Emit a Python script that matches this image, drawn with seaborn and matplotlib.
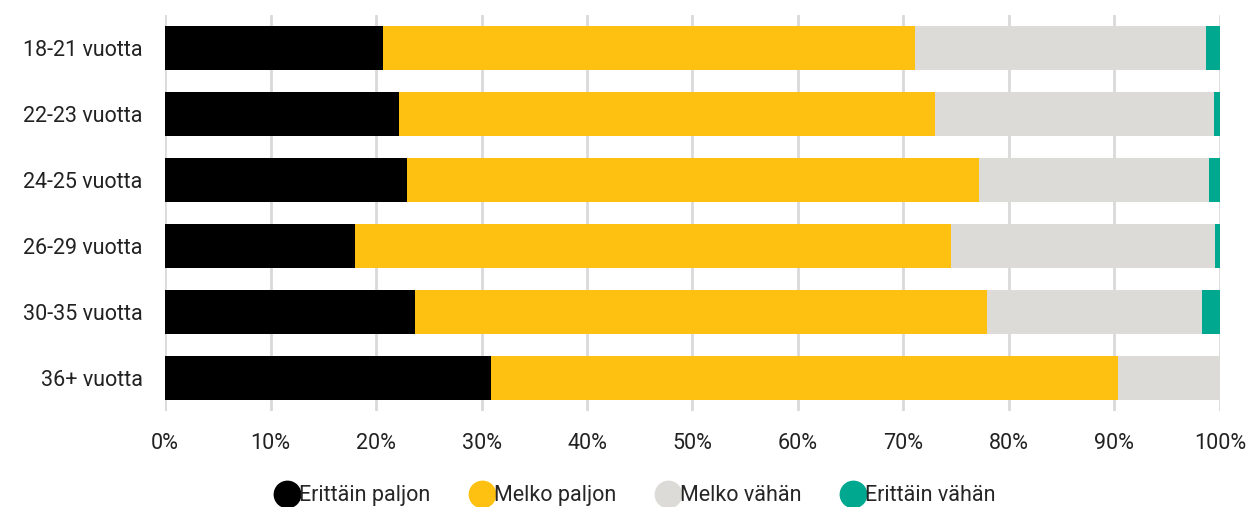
import numpy as np
import pandas as pd
import matplotlib
matplotlib.use("Agg")
import matplotlib.pyplot as plt
from matplotlib.lines import Line2D
import seaborn as sns

categories = ["18-21 vuotta", "22-23 vuotta", "24-25 vuotta", "26-29 vuotta", "30-35 vuotta", "36+ vuotta"]
series_names = ["Erittäin paljon", "Melko paljon", "Melko vähän", "Erittäin vähän"]
erittain_paljon = [20.7, 22.2, 22.9, 18.0, 23.7, 30.9]
melko_paljon = [50.4, 50.8, 54.3, 56.5, 54.2, 59.4]
melko_vahan = [27.6, 26.4, 21.8, 25.0, 20.4, 9.7]
erittain_vahan = [1.3, 0.6, 1.0, 0.5, 1.7, 0.0]
colors = ["#000000", "#FEC111", "#DCDBD7", "#00A88F"]

sns.set_style("white")
plt.rcParams['font.family'] = ['Roboto', 'DejaVu Sans']

df = pd.DataFrame({"cat": categories,
                   series_names[0]: erittain_paljon,
                   series_names[1]: melko_paljon,
                   series_names[2]: melko_vahan,
                   series_names[3]: erittain_vahan})
cum = df[series_names].cumsum(axis=1)

fig = plt.figure(figsize=(12.46, 5.07), dpi=100)
ax = fig.add_axes([0.1325, 0.19, 0.8465, 0.78])

# draw from the longest stack to the shortest so each overlays the previous
for name, col in reversed(list(zip(series_names, colors))):
    sns.barplot(x=cum[name], y=df["cat"], orient="h", color=col, width=0.667,
                ax=ax, saturation=1, linewidth=0, zorder=2)

ax.set_xlim(0, 100)
ax.set_xticks(np.arange(0, 101, 10))
ax.set_xticklabels([f"{v}%" for v in range(0, 101, 10)])
ax.set_xlabel("")
ax.set_ylabel("")
ax.grid(axis="x", color="#D9D9D9", linewidth=2, zorder=0)
ax.set_axisbelow(True)
for s in ax.spines.values():
    s.set_visible(False)
ax.tick_params(axis="x", length=0, pad=16, labelsize=15.5, colors="#222222")
ax.tick_params(axis="y", length=0, pad=16, labelsize=15.5, colors="#222222")

handles = [Line2D([0], [0], marker="o", linestyle="", markersize=19,
                  markerfacecolor=c, markeredgecolor=c) for c in colors]
fig.legend(handles, series_names, loc="lower center", ncol=4, frameon=False,
           bbox_to_anchor=(0.51, -0.037), fontsize=15.5, handletextpad=0.0,
           columnspacing=1.85, handlelength=1.1)

fig.savefig("out.png", dpi=100)
